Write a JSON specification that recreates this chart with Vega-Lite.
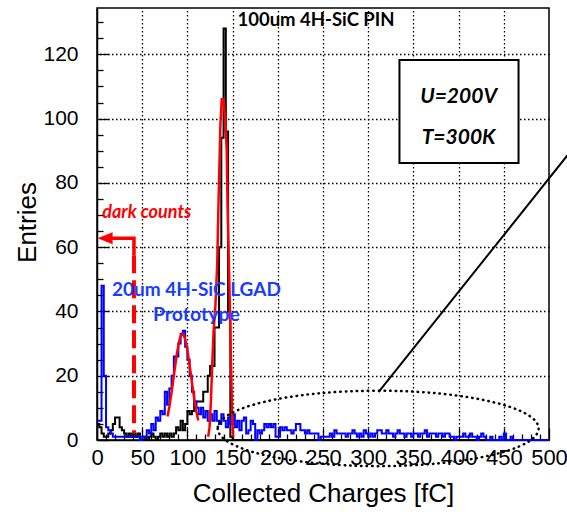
{
  "$schema": "https://vega.github.io/schema/vega-lite/v6.json",
  "width": 452,
  "height": 432,
  "autosize": "none",
  "padding": {"left": 97, "top": 8, "right": 18, "bottom": 83},
  "background": "white",
  "config": {"view": {"stroke": "black", "strokeWidth": 1.5}},
  "resolve": {"axis": {"x": "independent", "y": "independent"}},
  "datasets": {
    "blue": [
      {"q":0,"n":6},{"q":2.5,"n":6},{"q":5,"n":48},{"q":7.5,"n":20},{"q":10,"n":4},{"q":12.5,"n":3},{"q":15,"n":2},{"q":17.5,"n":1},
      {"q":20,"n":1},{"q":22.5,"n":1},{"q":25,"n":1},{"q":27.5,"n":1},{"q":30,"n":1},{"q":32.5,"n":1},{"q":35,"n":1},{"q":37.5,"n":1},
      {"q":40,"n":1},{"q":42.5,"n":1},{"q":45,"n":1},{"q":47.5,"n":0},{"q":50,"n":1},{"q":52.5,"n":1},{"q":55,"n":3},{"q":57.5,"n":2},
      {"q":60,"n":5},{"q":62.5,"n":3},{"q":65,"n":7},{"q":67.5,"n":6},{"q":70,"n":9},{"q":72.5,"n":8},{"q":75,"n":15},{"q":77.5,"n":11},
      {"q":80,"n":16},{"q":82.5,"n":20},{"q":85,"n":26},{"q":87.5,"n":26},{"q":90,"n":30},{"q":92.5,"n":33},{"q":95,"n":34},{"q":97.5,"n":29},
      {"q":100,"n":25},{"q":102.5,"n":20},{"q":105,"n":15},{"q":107.5,"n":12},{"q":110,"n":10},{"q":112.5,"n":8},{"q":115,"n":10},{"q":117.5,"n":7},
      {"q":120,"n":9},{"q":122.5,"n":6},{"q":125,"n":8},{"q":127.5,"n":6},{"q":130,"n":9},{"q":132.5,"n":6},{"q":135,"n":5},{"q":137.5,"n":8},
      {"q":140,"n":6},{"q":142.5,"n":4},{"q":145,"n":7},{"q":147.5,"n":5},{"q":150,"n":8},{"q":152.5,"n":4},{"q":155,"n":6},{"q":157.5,"n":3},
      {"q":160,"n":6},{"q":162.5,"n":7},{"q":165,"n":2},{"q":167.5,"n":3},{"q":170,"n":6},{"q":172.5,"n":5},{"q":175,"n":0},{"q":177.5,"n":3},
      {"q":180,"n":2},{"q":182.5,"n":3},{"q":185,"n":5},{"q":187.5,"n":4},{"q":190,"n":5},{"q":192.5,"n":4},{"q":195,"n":5},{"q":197.5,"n":1},
      {"q":200,"n":1},{"q":202.5,"n":4},{"q":205,"n":3},{"q":207.5,"n":4},{"q":210,"n":3},{"q":212.5,"n":3},{"q":215,"n":2},{"q":217.5,"n":3},
      {"q":220,"n":5},{"q":222.5,"n":5},{"q":225,"n":3},{"q":227.5,"n":3},{"q":230,"n":2},{"q":232.5,"n":3},{"q":235,"n":2},{"q":237.5,"n":2},
      {"q":240,"n":2},{"q":242.5,"n":2},{"q":245,"n":0},{"q":247.5,"n":1},{"q":250,"n":1},{"q":252.5,"n":1},{"q":255,"n":1},{"q":257.5,"n":2},
      {"q":260,"n":1},{"q":262.5,"n":3},{"q":265,"n":2},{"q":267.5,"n":2},{"q":270,"n":2},{"q":272.5,"n":2},{"q":275,"n":1},{"q":277.5,"n":2},
      {"q":280,"n":2},{"q":282.5,"n":3},{"q":285,"n":2},{"q":287.5,"n":1},{"q":290,"n":2},{"q":292.5,"n":1},{"q":295,"n":3},{"q":297.5,"n":2},
      {"q":300,"n":1},{"q":302.5,"n":2},{"q":305,"n":1},{"q":307.5,"n":2},{"q":310,"n":3},{"q":312.5,"n":3},{"q":315,"n":2},{"q":317.5,"n":2},
      {"q":320,"n":3},{"q":322.5,"n":2},{"q":325,"n":2},{"q":327.5,"n":1},{"q":330,"n":2},{"q":332.5,"n":3},{"q":335,"n":2},{"q":337.5,"n":2},
      {"q":340,"n":1},{"q":342.5,"n":2},{"q":345,"n":2},{"q":347.5,"n":1},{"q":350,"n":2},{"q":352.5,"n":2},{"q":355,"n":1},{"q":357.5,"n":2},
      {"q":360,"n":2},{"q":362.5,"n":3},{"q":365,"n":1},{"q":367.5,"n":2},{"q":370,"n":2},{"q":372.5,"n":2},{"q":375,"n":1},{"q":377.5,"n":2},
      {"q":380,"n":2},{"q":382.5,"n":1},{"q":385,"n":2},{"q":387.5,"n":2},{"q":390,"n":1},{"q":392.5,"n":1},{"q":395,"n":0},{"q":397.5,"n":1},
      {"q":400,"n":1},{"q":402.5,"n":1},{"q":405,"n":2},{"q":407.5,"n":1},{"q":410,"n":1},{"q":412.5,"n":2},{"q":415,"n":1},{"q":417.5,"n":1},
      {"q":420,"n":0},{"q":422.5,"n":1},{"q":425,"n":2},{"q":427.5,"n":1},{"q":430,"n":0},{"q":432.5,"n":0},{"q":435,"n":1},{"q":437.5,"n":0},
      {"q":440,"n":0},{"q":442.5,"n":0},{"q":445,"n":1},{"q":447.5,"n":0},{"q":450,"n":2},{"q":452.5,"n":0},{"q":455,"n":0},{"q":457.5,"n":1},
      {"q":460,"n":0},{"q":500,"n":0}
    ],
    "black": [
      {"q":0,"n":5},{"q":2.5,"n":4},{"q":5,"n":2},{"q":7.5,"n":1},{"q":10,"n":1},{"q":12.5,"n":2},{"q":15,"n":3},{"q":17.5,"n":5},
      {"q":20,"n":7},{"q":22.5,"n":7},{"q":25,"n":4},{"q":27.5,"n":3},{"q":30,"n":2},{"q":32.5,"n":1},{"q":35,"n":2},{"q":37.5,"n":1},
      {"q":40,"n":2},{"q":42.5,"n":1},{"q":45,"n":2},{"q":47.5,"n":0},{"q":50,"n":0},{"q":52.5,"n":1},{"q":55,"n":0},{"q":57.5,"n":1},
      {"q":60,"n":2},{"q":62.5,"n":1},{"q":65,"n":0},{"q":67.5,"n":1},{"q":70,"n":2},{"q":72.5,"n":1},{"q":75,"n":2},{"q":77.5,"n":1},
      {"q":80,"n":2},{"q":82.5,"n":1},{"q":85,"n":2},{"q":87.5,"n":4},{"q":90,"n":3},{"q":92.5,"n":6},{"q":95,"n":3},{"q":97.5,"n":5},
      {"q":100,"n":9},{"q":102.5,"n":8},{"q":105,"n":9},{"q":107.5,"n":12},{"q":110,"n":12},{"q":112.5,"n":12},{"q":115,"n":12},{"q":117.5,"n":15},
      {"q":120,"n":15},{"q":122.5,"n":20},{"q":125,"n":23},{"q":127.5,"n":23},{"q":130,"n":35},{"q":132.5,"n":35},{"q":135,"n":60},{"q":137.5,"n":94},
      {"q":140,"n":128},{"q":142.5,"n":96},{"q":145,"n":40},{"q":147.5,"n":1},{"q":150,"n":0},{"q":500,"n":0}
    ],
    "fit1": [
      {"q":78,"n":7.3},{"q":80,"n":10.3},{"q":82,"n":13.9},{"q":84,"n":17.9},{"q":86,"n":22.1},{"q":88,"n":26.1},{"q":90,"n":29.5},
      {"q":92,"n":31.9},{"q":94,"n":33.0},{"q":96,"n":32.6},{"q":98,"n":30.8},{"q":100,"n":27.9},{"q":102,"n":24.2},{"q":104,"n":20.0},
      {"q":106,"n":15.9},{"q":108,"n":12.0},{"q":110,"n":8.7},{"q":112,"n":6.1}
    ],
    "fit2": [
      {"q":123,"n":1},{"q":124.5,"n":4},{"q":126,"n":12},{"q":127.5,"n":24},{"q":129,"n":34},{"q":131,"n":42},{"q":133,"n":55},
      {"q":134.5,"n":75},{"q":136.5,"n":98},{"q":138,"n":106},{"q":140,"n":106},{"q":142,"n":99},{"q":143.5,"n":90},{"q":144.5,"n":72},
      {"q":146.5,"n":48},{"q":148,"n":27},{"q":149.5,"n":8},{"q":150.5,"n":1}
    ],
    "arrow": [
      {"q":10,"n":62.8},{"q":40.9,"n":62.8},{"q":40.9,"n":57.5}
    ],
    "dash": [
      {"q":40.9,"n":57.5},{"q":40.9,"n":2}
    ],
    "diag": [
      {"q":311.4,"n":14.9},{"q":520.5,"n":88.6}
    ],
    "one": [{}]
  },
  "layer": [
    {
      "data": {"name": "black"},
      "mark": {"type": "line", "interpolate": "step-after", "color": "black", "strokeWidth": 2},
      "encoding": {
        "x": {"field": "q", "type": "quantitative",
          "scale": {"domain": [0, 500], "nice": false, "zero": false},
          "axis": {
            "title": "Collected Charges [fC]",
            "values": [0,10,20,30,40,50,60,70,80,90,100,110,120,130,140,150,160,170,180,190,200,210,220,230,240,250,260,270,280,290,300,310,320,330,340,350,360,370,380,390,400,410,420,430,440,450,460,470,480,490,500],
            "tickCount": 500, "format": "d",
            "labelExpr": "datum.value % 50 === 0 ? datum.label : ''",
            "labelFont": "Liberation Sans", "labelFontSize": 22, "labelColor": "black", "labelPadding": 19,
            "labelFlush": false, "labelOverlap": false, "labelBound": false,
            "tickColor": "black", "tickWidth": 1.3, "tickSize": -12,
            "tickDash": {"condition": {"test": "datum.value % 50 === 0", "value": [12, 0]}, "value": [6, 20]},
            "grid": false,
            "domainColor": "black", "domainWidth": 1.5,
            "titleFont": "Liberation Sans", "titleFontSize": 26, "titleFontWeight": "normal", "titleColor": "black",
            "titleY": 61, "titleBaseline": "alphabetic"
          }
        },
        "y": {"field": "n", "type": "quantitative",
          "scale": {"domain": [0, 134.4], "nice": false, "zero": true},
          "axis": {
            "title": "Entries",
            "values": [0,5,10,15,20,25,30,35,40,45,50,55,60,65,70,75,80,85,90,95,100,105,110,115,120,125,130],
            "tickCount": 500, "format": "d",
            "labelExpr": "datum.value % 20 === 0 ? datum.label : ''",
            "labelFont": "Liberation Sans", "labelFontSize": 21, "labelColor": "black", "labelPadding": 31,
            "labelFlush": false, "labelOverlap": false, "labelBound": false,
            "tickColor": "black", "tickWidth": 1.3, "tickSize": -12,
            "tickDash": {"condition": {"test": "datum.value % 20 === 0", "value": [12, 0]}, "value": [6, 20]},
            "grid": false,
            "domainColor": "black", "domainWidth": 1.5,
            "titleFont": "Liberation Sans", "titleFontSize": 26, "titleFontWeight": "normal", "titleColor": "black",
            "titleX": -62, "titleY": 214, "titleAngle": -90, "titleBaseline": "alphabetic", "titleAlign": "center"
          }
        }
      }
    },
    {
      "data": {"name": "blue"},
      "mark": {"type": "line", "interpolate": "step-after", "color": "#0000ff", "strokeWidth": 2},
      "encoding": {
        "x": {"field": "q", "type": "quantitative",
          "axis": {"orient": "top", "values": [50,100,150,200,250,300,350,400,450], "grid": true, "gridColor": "#000", "gridDash": [1.5, 2.5], "gridWidth": 1.3, "gridOpacity": 1,
                   "labels": false, "ticks": false, "domain": false, "title": null}},
        "y": {"field": "n", "type": "quantitative",
          "axis": {"orient": "right", "values": [20,40,60,80,100,120], "grid": true, "gridColor": "#000", "gridDash": [1.5, 2.5], "gridWidth": 1.3, "gridOpacity": 1,
                   "labels": false, "ticks": false, "domain": false, "title": null}}
      }
    },
    {
      "data": {"name": "fit1"},
      "mark": {"type": "line", "color": "#ff0000", "strokeWidth": 2.5},
      "encoding": {
        "x": {"field": "q", "type": "quantitative", "axis": null},
        "y": {"field": "n", "type": "quantitative", "axis": null}
      }
    },
    {
      "data": {"name": "fit2"},
      "mark": {"type": "line", "color": "#ff0000", "strokeWidth": 2.5},
      "encoding": {
        "x": {"field": "q", "type": "quantitative", "axis": null},
        "y": {"field": "n", "type": "quantitative", "axis": null}
      }
    },
    {
      "data": {"name": "arrow"},
      "mark": {"type": "line", "color": "#ff0000", "strokeWidth": 3.5},
      "encoding": {
        "x": {"field": "q", "type": "quantitative", "axis": null},
        "y": {"field": "n", "type": "quantitative", "axis": null},
        "order": {"field": "q", "type": "quantitative", "sort": "ascending"}
      }
    },
    {
      "data": {"name": "dash"},
      "mark": {"type": "line", "color": "#ff0000", "strokeWidth": 4, "strokeDash": [18, 7]},
      "encoding": {
        "x": {"field": "q", "type": "quantitative", "axis": null},
        "y": {"field": "n", "type": "quantitative", "axis": null},
        "order": {"field": "n", "type": "quantitative", "sort": "descending"}
      }
    },
    {
      "data": {"name": "one"},
      "mark": {"type": "point", "shape": "M -1 0 L 1 -0.8 L 1 0.8 Z", "size": 225, "filled": true, "color": "#ff0000", "opacity": 1},
      "encoding": {
        "x": {"datum": 9, "type": "quantitative", "axis": null},
        "y": {"datum": 62.8, "type": "quantitative", "axis": null}
      }
    },
    {
      "data": {"name": "diag"},
      "mark": {"type": "line", "color": "black", "strokeWidth": 2, "clip": false},
      "encoding": {
        "x": {"field": "q", "type": "quantitative", "axis": null},
        "y": {"field": "n", "type": "quantitative", "axis": null}
      }
    },
    {
      "data": {"name": "one"},
      "mark": {"type": "point", "shape": "M -1 0 A 1 0.235 0 1 0 1 0 A 1 0.235 0 1 0 -1 0 Z", "size": 103000, "filled": false, "stroke": "black", "strokeWidth": 2.5, "strokeDash": [0.5, 5], "strokeCap": "round", "opacity": 1, "clip": false},
      "encoding": {
        "x": {"datum": 311, "type": "quantitative", "axis": null},
        "y": {"datum": 3.6, "type": "quantitative", "axis": null}
      }
    },
    {
      "data": {"name": "one"},
      "mark": {"type": "rect", "fill": "white", "stroke": "black", "strokeWidth": 2},
      "encoding": {
        "x": {"datum": 334.6, "type": "quantitative", "axis": null},
        "x2": {"datum": 466.3},
        "y": {"datum": 118.2, "type": "quantitative", "axis": null},
        "y2": {"datum": 86.2}
      }
    },
    {
      "data": {"name": "one"},
      "mark": {"type": "text", "text": "U=200V", "font": "Lato", "fontSize": 21, "fontWeight": "bold", "fontStyle": "italic", "color": "black", "align": "center", "baseline": "middle"},
      "encoding": {
        "x": {"datum": 400, "type": "quantitative", "axis": null},
        "y": {"datum": 106.7, "type": "quantitative", "axis": null}
      }
    },
    {
      "data": {"name": "one"},
      "mark": {"type": "text", "text": "T=300K", "font": "Lato", "fontSize": 21, "fontWeight": "bold", "fontStyle": "italic", "color": "black", "align": "center", "baseline": "middle"},
      "encoding": {
        "x": {"datum": 400, "type": "quantitative", "axis": null},
        "y": {"datum": 93.9, "type": "quantitative", "axis": null}
      }
    },
    {
      "data": {"name": "one"},
      "mark": {"type": "text", "text": "100um 4H-SiC PIN", "font": "Lato", "fontSize": 18.5, "fontWeight": "bold", "color": "black", "align": "left", "baseline": "middle"},
      "encoding": {
        "x": {"datum": 155.4, "type": "quantitative", "axis": null},
        "y": {"datum": 130.8, "type": "quantitative", "axis": null}
      }
    },
    {
      "data": {"name": "one"},
      "mark": {"type": "text", "text": "dark counts", "font": "Lato", "fontSize": 18, "fontWeight": "bold", "fontStyle": "italic", "color": "#ff0000", "align": "left", "baseline": "middle"},
      "encoding": {
        "x": {"datum": 5.8, "type": "quantitative", "axis": null},
        "y": {"datum": 70.6, "type": "quantitative", "axis": null}
      }
    },
    {
      "data": {"name": "one"},
      "mark": {"type": "text", "text": "20um 4H-SiC LGAD", "font": "Lato", "fontSize": 19, "fontWeight": "bold", "color": "#1a3cff", "align": "left", "baseline": "middle"},
      "encoding": {
        "x": {"datum": 16.5, "type": "quantitative", "axis": null},
        "y": {"datum": 46.7, "type": "quantitative", "axis": null}
      }
    },
    {
      "data": {"name": "one"},
      "mark": {"type": "text", "text": "Prototype", "font": "Lato", "fontSize": 19.5, "fontWeight": "bold", "color": "#1a3cff", "align": "center", "baseline": "middle"},
      "encoding": {
        "x": {"datum": 110, "type": "quantitative", "axis": null},
        "y": {"datum": 38.9, "type": "quantitative", "axis": null}
      }
    }
  ]
}
